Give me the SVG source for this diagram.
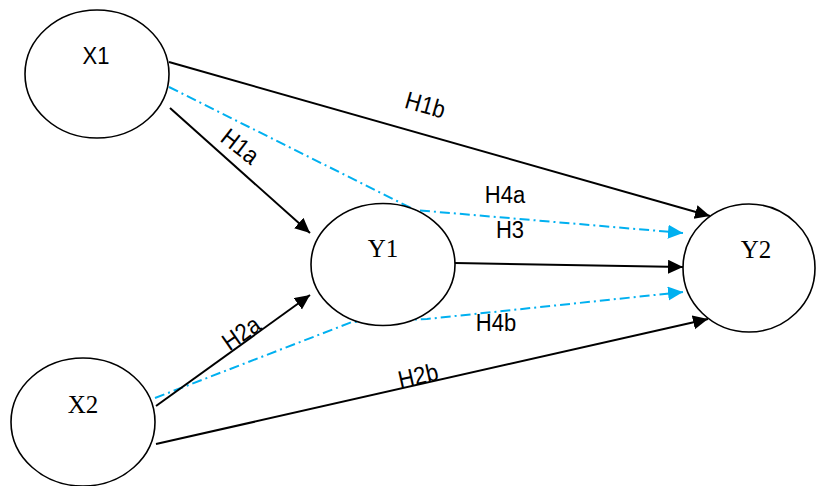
<svg xmlns="http://www.w3.org/2000/svg" width="817" height="486" viewBox="0 0 817 486">
<defs>
<style>
.node{fill:#fff;stroke:#000;stroke-width:1.6}
.lbl{font-family:"Liberation Sans",Arial,sans-serif;font-size:22px;fill:#000;text-anchor:middle}
.nlbl{font-family:"Liberation Serif","Times New Roman",serif;font-size:25px;fill:#000;text-anchor:middle}
.k{stroke:#000;stroke-width:2;fill:none}
.b{stroke:#00B0F0;stroke-width:2;fill:none;stroke-dasharray:10 4 2 4}
</style>
<marker id="ak" markerUnits="userSpaceOnUse" markerWidth="17" markerHeight="15" refX="15" refY="7" orient="auto"><path d="M0,0 L15,7 L0,14 z" fill="#000"/></marker>
<marker id="ab" markerUnits="userSpaceOnUse" markerWidth="17" markerHeight="15" refX="15" refY="7" orient="auto"><path d="M0,0 L15,7 L0,14 z" fill="#00B0F0"/></marker>
</defs>
<rect width="817" height="486" fill="#fff"/>
<g id="connectors">
<path class="b" d="M169,87 L415,210 L683,233" marker-end="url(#ab)"/>
<path class="b" d="M155,398 L352,322 L427,319 L683,292" marker-end="url(#ab)"/>
<line class="k" x1="169" y1="62" x2="710" y2="216" marker-end="url(#ak)"/>
<line class="k" x1="170" y1="108" x2="310" y2="233" marker-end="url(#ak)"/>
<line class="k" x1="455" y1="263" x2="683" y2="267" marker-end="url(#ak)"/>
<line class="k" x1="156" y1="406" x2="310" y2="295" marker-end="url(#ak)"/>
<line class="k" x1="156" y1="444" x2="708" y2="319" marker-end="url(#ak)"/>
<text class="lbl" transform="translate(423,113) rotate(16) scale(1,1.12)">H1b</text>
<text class="lbl" transform="translate(235,153) rotate(38) scale(1,1.12)">H1a</text>
<text class="lbl" transform="translate(246,340) rotate(-35) scale(1,1.12)">H2a</text>
<text class="lbl" transform="translate(420,384) rotate(-12.7) scale(1,1.12)">H2b</text>
<text class="lbl" transform="translate(505,203) scale(1,1.12)">H4a</text>
<text class="lbl" transform="translate(510,238) scale(1,1.12)">H3</text>
<text class="lbl" transform="translate(496,331) scale(1,1.12)">H4b</text>
</g>
<g id="X1"><ellipse class="node" cx="97" cy="74" rx="72" ry="64"/><text class="lbl" transform="translate(96,64) scale(1,1.12)">X1</text></g>
<g id="Y1"><ellipse class="node" cx="383" cy="264.5" rx="72" ry="61"/><text class="nlbl" x="383" y="257">Y1</text></g>
<g id="Y2"><ellipse class="node" cx="749" cy="268" rx="66" ry="64"/><text class="nlbl" x="756" y="258">Y2</text></g>
<g id="X2"><ellipse class="node" cx="83" cy="422" rx="72" ry="64"/><text class="nlbl" x="83" y="413">X2</text></g>
</svg>
